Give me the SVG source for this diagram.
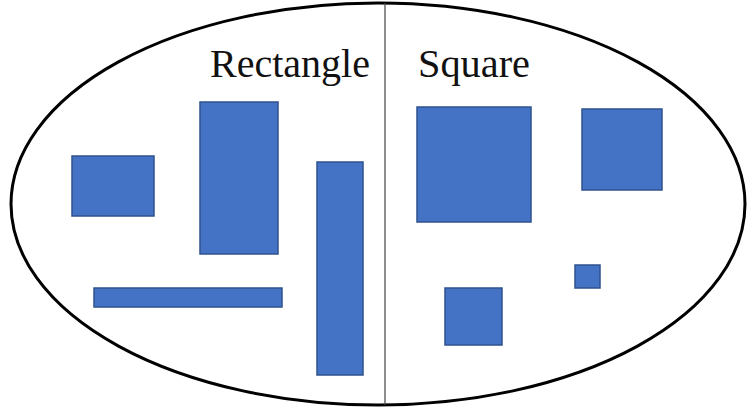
<svg xmlns="http://www.w3.org/2000/svg" width="749" height="413" viewBox="0 0 749 413">
<style>
.shape{fill:#4472C4;stroke:#2F528F;stroke-width:1.5}
.lbl{font-family:"Liberation Serif","DejaVu Serif",serif;font-size:39px;fill:#111}
</style>
<rect width="749" height="413" fill="#fff"/>
<g id="set">
<ellipse cx="378" cy="204" rx="367" ry="201" fill="none" stroke="#000" stroke-width="3"/>
</g>
<g id="connectors">
<line x1="385" y1="3" x2="385" y2="405" stroke="#444" stroke-width="1.2"/>
</g>
<g id="label-rectangle"><text class="lbl" x="210" y="77" textLength="160" lengthAdjust="spacingAndGlyphs">Rectangle</text></g>
<g id="label-square"><text class="lbl" x="418" y="77" textLength="112" lengthAdjust="spacingAndGlyphs">Square</text></g>
<g id="rect1"><rect class="shape" x="72" y="156" width="82" height="60"/></g>
<g id="rect2"><rect class="shape" x="200" y="102" width="78" height="152"/></g>
<g id="rect3"><rect class="shape" x="317" y="162" width="46" height="213"/></g>
<g id="rect4"><rect class="shape" x="94" y="288" width="188" height="19"/></g>
<g id="square1"><rect class="shape" x="417" y="107" width="114" height="115"/></g>
<g id="square2"><rect class="shape" x="582" y="109" width="80" height="81"/></g>
<g id="square3"><rect class="shape" x="575" y="265" width="25" height="23"/></g>
<g id="square4"><rect class="shape" x="445" y="288" width="57" height="57"/></g>
</svg>
